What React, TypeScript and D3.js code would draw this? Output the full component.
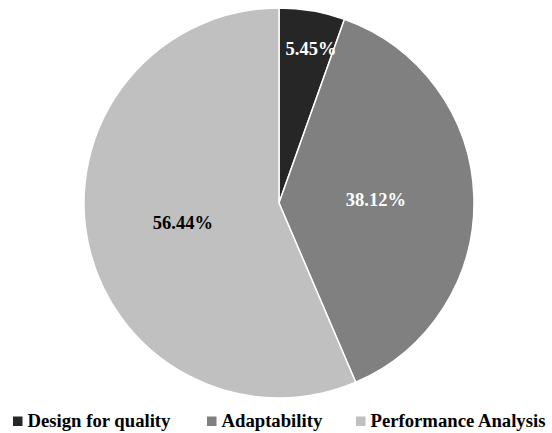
import React from "react";
import * as d3 from "d3";

const categories = ["Design for quality", "Adaptability", "Performance Analysis"];
const values = [5.45, 38.12, 56.44];
const colors = ["#262626", "#808080", "#c0c0c0"];
const labelColors = ["#ffffff", "#ffffff", "#000000"];
// label placement: radius as a fraction of R, plus a small angular nudge (degrees)
const labelRadius = [0.81, 0.497, 0.503];
const labelNudge = [1.9, 0, 0];

const W = 552;
const H = 433;
const cx = 279;
const cy = 203;
const R = 195;
const font = "Liberation Serif";

export default function App() {
  const pie = d3.pie<number>().sort(null).value((d) => d)(values);
  const arc = d3.arc<d3.PieArcDatum<number>>().innerRadius(0).outerRadius(R);
  const legendX = [13, 207, 356];

  return (
    <svg width={W} height={H} style={{ position: "absolute", left: 0, top: 0 }}>
      <rect width={W} height={H} fill="#fff" />
      <g transform={`translate(${cx},${cy})`}>
        {pie.map((p, i) => (
          <path key={i} d={arc(p) || ""} fill={colors[i]} stroke="#fff" strokeWidth={1.5} />
        ))}
        {pie.map((p, i) => {
          const a = (p.startAngle + p.endAngle) / 2 + (labelNudge[i] * Math.PI) / 180;
          const r = R * labelRadius[i];
          return (
            <text
              key={i}
              x={r * Math.sin(a)}
              y={-r * Math.cos(a)}
              dy="0.35em"
              textAnchor="middle"
              fontFamily={font}
              fontWeight="bold"
              fontSize={18.5}
              fill={labelColors[i]}
            >
              {values[i].toFixed(2)}%
            </text>
          );
        })}
      </g>
      {categories.map((c, i) => (
        <g key={c}>
          <rect x={legendX[i]} y={416.5} width={9.5} height={9.5} fill={colors[i]} />
          <text x={legendX[i] + 14.5} y={426.5} fontFamily={font} fontWeight="bold" fontSize={18.7} fill="#000">
            {c}
          </text>
        </g>
      ))}
    </svg>
  );
}
